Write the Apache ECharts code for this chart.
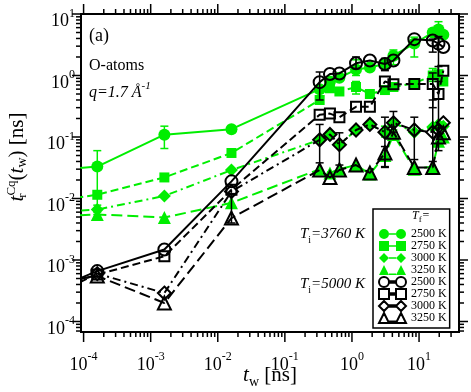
<!DOCTYPE html>
<html><head><meta charset="utf-8">
<script src="https://cdn.jsdelivr.net/npm/echarts@6/dist/echarts.min.js"></script>
<style>html,body{margin:0;padding:0;background:#fff}#c{width:471px;height:392px}</style>
</head><body><div id="c"></div>
<script>
// ---------------- data ----------------
const twLead = 5e-5;   // earlier waiting time (outside the plotted x range)
const tw = [1.6e-4, 1.6e-3, 1.6e-2, 0.33, 0.47, 0.65, 1.15, 1.85, 3.1, 4.15, 8.5, 16, 19.5, 23];

// Ti = 3760 K (green)   first value belongs to twLead
const g2500 = [0.030, 0.033, 0.109, 0.134, 0.60, 0.80, 0.92, 1.25, 1.35, 1.55, 2.1, 3.3, 5.0, 5.6, 4.6];
const g2750 = [0.0096, 0.0115, 0.022, 0.055, 0.40, 0.62, 0.55, 0.65, 0.50, 0.58, 0.65, 0.75, 1.0, 1.05, 0.80];
const g3000 = [0.0062, 0.0066, 0.011, 0.029, 0.09, 0.11, 0.075, 0.13, 0.16, 0.12, 0.17, 0.12, 0.145, 0.16, 0.15];
const g3250 = [0.0052, 0.0055, 0.0049, 0.0085, 0.030, 0.026, 0.030, 0.035, 0.025, 0.050, 0.11, 0.030, 0.033, 0.085, 0.10];
// Ti = 5000 K (black)
const b2500 = [3.9e-4, 6.6e-4, 1.48e-3, 0.019, 0.78, 1.06, 1.08, 1.58, 1.75, 1.54, 1.75, 3.9, 3.7, 3.3, 2.9];
const b2750 = [3.9e-4, 5.8e-4, 1.15e-3, 0.0139, 0.23, 0.24, 0.21, 0.31, 0.31, 0.80, 0.72, 0.73, 0.73, 0.50, 1.2];
const b3000 = [3.2e-4, 6.0e-4, 2.9e-4, 0.013, 0.09, 0.11, 0.075, 0.13, 0.16, 0.12, 0.17, 0.13, 0.12, 0.13, 0.17];
const b3250 = [4.5e-4, 5.5e-4, 2.0e-4, 4.8e-3, 0.029, 0.022, 0.029, 0.035, 0.026, 0.055, 0.12, 0.032, 0.032, 0.10, 0.117];

// error bars: [index into tw, low, high]
const g2500Err = [[0, 0.006, 0.06], [1, 0.065, 0.15], [6, 1.0, 1.8], [9, 1.5, 2.6], [10, 2.0, 4.2], [12, 4.0, 7.5]];
const g2750Err = [[6, 0.5, 0.8], [11, 0.8, 1.3]];
const g3000Err = [[0, 0.0055, 0.0078], [8, 0.1, 0.15]];
const g3250Err = [[9, 0.09, 0.13]];
const b2500Err = [[3, 0.40, 1.14], [6, 1.3, 2.0], [8, 1.2, 1.9], [11, 2.4, 3.9], [12, 1.4, 4.3]];
const b2750Err = [[11, 0.3, 1.1], [12, 0.1, 0.8]];
const b3000Err = [[3, 0.038, 0.16], [5, 0.035, 0.117], [8, 0.033, 0.21], [9, 0.12, 0.26], [10, 0.043, 0.21], [11, 0.04, 0.4]];
const b3250Err = [[2, 0.004, 0.012], [8, 0.032, 0.07], [12, 0.06, 0.14]];

const tempsK = ['2500', '2750', '3000', '3250'];

// axis ranges
const XMIN = 9.15e-5, XMAX = 39.4;
const YMIN = 6.75e-5, YMAX = 10;

// --------------- styling ---------------
const FONT = 'Liberation Serif';
const GREEN = '#00ee00';
const GREEN_TXT = '#22a022';
const dashes = { s: 'solid', d: [8, 4], dd: [8, 4, 2, 4], ld: [11, 5] };
const syms = ['circle', 'rect', 'diamond', 'triangle'];
const symSize = [12, 10, 13, 13];
const lineTypes = [dashes.s, dashes.d, dashes.dd, dashes.ld];
const iconPaths = [
  'path://M0,5A5,5,0,1,1,10,5A5,5,0,1,1,0,5ZM17,5A5,5,0,1,1,27,5A5,5,0,1,1,17,5ZM10,4.2L17,4.2L17,5.8L10,5.8Z',
  'path://M0,0L10,0L10,10L0,10ZM17,0L27,0L27,10L17,10ZM10,4.2L17,4.2L17,5.8L10,5.8Z',
  'path://M5,0L10,5L5,10L0,5ZM22,0L27,5L22,10L17,5ZM10,4.2L17,4.2L17,5.8L10,5.8Z',
  'path://M5,0L10,10L0,10ZM22,0L27,10L17,10ZM10,8.4L17,8.4L17,10L10,10Z'
];

function pts(arr) {
  const xs = [twLead].concat(tw);
  return arr.map((v, i) => i === 0 ? { value: [xs[i], v], symbol: 'none' } : [xs[i], v]);
}

const green = [g2500, g2750, g3000, g3250];
const black = [b2500, b2750, b3000, b3250];
const greenErr = [g2500Err, g2750Err, g3000Err, g3250Err];
const blackErr = [b2500Err, b2750Err, b3000Err, b3250Err];

const series = [];
function errRender(color) {
  return function (params, api) {
    const x = api.value(0), lo = api.value(1), hi = api.value(2);
    const a = api.coord([x, lo]), b = api.coord([x, hi]);
    const w = 4, st = { stroke: color, lineWidth: 1.5 };
    return { type: 'group', children: [
      { type: 'line', shape: { x1: a[0], y1: a[1], x2: b[0], y2: b[1] }, style: st },
      { type: 'line', shape: { x1: a[0] - w, y1: a[1], x2: a[0] + w, y2: a[1] }, style: st },
      { type: 'line', shape: { x1: b[0] - w, y1: b[1], x2: b[0] + w, y2: b[1] }, style: st }
    ] };
  };
}

[['g', green, greenErr, GREEN], ['b', black, blackErr, '#000']].forEach(([pfx, sets, errs, col], gi) => {
  sets.forEach((arr, k) => {
    const hollow = pfx === 'b';
    series.push({
      name: pfx + tempsK[k], type: 'line', data: pts(arr),
      symbol: syms[k], symbolSize: symSize[k], showAllSymbol: true,
      clip: true, z: 2 + gi, animation: false, silent: true,
      lineStyle: { color: col, width: 2, type: lineTypes[k] },
      itemStyle: hollow ? { color: 'rgba(0,0,0,0)', borderColor: '#000', borderWidth: 2 }
                        : { color: col, borderWidth: 0 }
    });
    series.push({
      type: 'custom', renderItem: errRender(col), z: 2 + gi, silent: true, animation: false,
      encode: { x: 0, y: [1, 2] },
      data: errs[k].map(e => [tw[e[0]], e[1], e[2]])
    });
  });
});

// minor/major tick marks (log decades) on all four sides
function logTicks(lo, hi) {
  const out = [];
  for (let e = -6; e <= 3; e++) {
    for (let m = 1; m <= 9; m++) {
      const v = m * Math.pow(10, e);
      if (v >= lo * 1.0001 && v <= hi * 1.0001) out.push([v, m === 1 ? 1 : 0]);
    }
  }
  return out;
}
function tickLine(x1, y1, x2, y2) {
  return { type: 'line', shape: { x1, y1, x2, y2 }, style: { stroke: '#000', lineWidth: 1.5 } };
}
series.push({
  type: 'custom', silent: true, animation: false, z: 10, clip: false,
  encode: { x: 0, y: 1 },
  data: logTicks(XMIN, XMAX).map(t => [t[0], YMIN, t[1]]),
  renderItem: function (params, api) {
    const cs = params.coordSys;
    const px = api.coord([api.value(0), YMIN])[0];
    const len = api.value(2) === 1 ? 10 : 5;
    return { type: 'group', children: [
      tickLine(px, cs.y + cs.height, px, cs.y + cs.height + len),
      tickLine(px, cs.y, px, cs.y - len)
    ] };
  }
});
series.push({
  type: 'custom', silent: true, animation: false, z: 10, clip: false,
  encode: { x: 0, y: 1 },
  data: logTicks(YMIN, YMAX).map(t => [XMIN, t[0], t[1]]),
  renderItem: function (params, api) {
    const cs = params.coordSys;
    const py = api.coord([XMIN, api.value(1)])[1];
    const len = api.value(2) === 1 ? 9 : 5;
    return { type: 'group', children: [
      tickLine(cs.x, py, cs.x - len, py),
      tickLine(cs.x + cs.width, py, cs.x + cs.width + len, py)
    ] };
  }
});

function decadeLabel(v) {
  const e = Math.log10(v), r = Math.round(e);
  if (Math.abs(e - r) > 1e-6) return '';
  return '{b|10}{s|' + r + '}';
}
const labelRich = {
  b: { fontFamily: FONT, fontSize: 18, color: '#000', lineHeight: 23, verticalAlign: 'bottom' },
  s: { fontFamily: FONT, fontSize: 12, color: '#000', lineHeight: 11, verticalAlign: 'top' }
};

const legendData = [];
['g', 'b'].forEach(pfx => tempsK.forEach((t, k) => {
  legendData.push({
    name: pfx + t, icon: iconPaths[k],
    itemStyle: pfx === 'g' ? { color: GREEN, borderWidth: 0 }
                           : { color: 'rgba(0,0,0,0)', borderColor: '#000', borderWidth: 2 }
  });
}));

const option = {
  backgroundColor: '#fff',
  animation: false,
  grid: { left: 81, right: 12, top: 14, bottom: 60, show: true, borderColor: '#000', borderWidth: 2, backgroundColor: 'transparent' },
  xAxis: {
    type: 'log', min: XMIN, max: XMAX,
    axisLine: { show: false }, axisTick: { show: false }, splitLine: { show: false },
    axisLabel: { margin: 19, formatter: decadeLabel, rich: labelRich }
  },
  yAxis: {
    type: 'log', min: YMIN, max: YMAX,
    axisLine: { show: false }, axisTick: { show: false }, splitLine: { show: false },
    axisLabel: { margin: 6, padding: [10, 0, 0, 0], formatter: decadeLabel, rich: labelRich }
  },
  legend: {
    left: 373, top: 209, orient: 'vertical', selectedMode: false,
    padding: [19, 3, 4, 5], itemWidth: 27, itemHeight: 10, itemGap: 0,
    borderColor: '#000', borderWidth: 1.5, backgroundColor: '#fff',
    textStyle: { fontFamily: FONT, fontSize: 12, lineHeight: 10, color: '#000' },
    formatter: n => n.slice(1) + ' K',
    data: legendData
  },
  graphic: [
    { type: 'text', x: 89, y: 36, z: 20, style: { text: '(a)', font: '18px "Liberation Serif"', fill: '#000', verticalAlign: 'middle' } },
    { type: 'text', x: 89, y: 66, z: 20, style: { text: 'O-atoms', font: '16px "Liberation Serif"', fill: '#000', verticalAlign: 'middle' } },
    { type: 'text', x: 89, y: 91, z: 20, style: {
        text: '{i|q=1.7 Å}{s|-1}', verticalAlign: 'middle',
        rich: { i: { fontFamily: FONT, fontStyle: 'italic', fontSize: 16, color: '#000', lineHeight: 20, verticalAlign: 'bottom' },
                s: { fontFamily: FONT, fontStyle: 'italic', fontSize: 11, color: '#000', lineHeight: 10, verticalAlign: 'top' } } } },
    { type: 'text', x: 300, y: 236, z: 20, style: {
        text: '{i|T}{u|i}{i|=3760 K}', verticalAlign: 'middle',
        rich: { i: { fontFamily: FONT, fontStyle: 'italic', fontSize: 15, color: GREEN_TXT, lineHeight: 19, verticalAlign: 'top' },
                u: { fontFamily: FONT, fontSize: 10, color: GREEN_TXT, lineHeight: 10, verticalAlign: 'bottom' } } } },
    { type: 'text', x: 300, y: 286, z: 20, style: {
        text: '{i|T}{u|i}{i|=5000 K}', verticalAlign: 'middle',
        rich: { i: { fontFamily: FONT, fontStyle: 'italic', fontSize: 15, color: '#000', lineHeight: 19, verticalAlign: 'top' },
                u: { fontFamily: FONT, fontSize: 10, color: '#000', lineHeight: 10, verticalAlign: 'bottom' } } } },
    { type: 'text', x: 412, y: 217, z: 20, style: {
        text: '{i|T}{u|f}{i|=}', verticalAlign: 'middle',
        rich: { i: { fontFamily: FONT, fontStyle: 'italic', fontSize: 12, color: '#000', lineHeight: 14, verticalAlign: 'top' },
                u: { fontFamily: FONT, fontSize: 9, color: '#000', lineHeight: 8, verticalAlign: 'bottom' } } } },
    { type: 'text', x: 270, y: 377, z: 20, style: {
        text: '{t|t}{w|w}{n| [ns]}', align: 'center', verticalAlign: 'middle',
        rich: { t: { fontFamily: FONT, fontStyle: 'italic', fontSize: 21, color: '#000', lineHeight: 24, verticalAlign: 'top' },
                w: { fontFamily: FONT, fontSize: 14, color: '#000', lineHeight: 12, verticalAlign: 'bottom' },
                n: { fontFamily: FONT, fontSize: 21, color: '#000', lineHeight: 24, verticalAlign: 'top' } } } },
    { type: 'text', x: 17, y: 157, z: 20, rotation: Math.PI / 2, style: {
        text: '{t|t}{r|r}{c|Cq}{n|(}{t|t}{w|w}{n|)}{n| [ns]}', align: 'center', verticalAlign: 'middle',
        rich: { t: { fontFamily: FONT, fontStyle: 'italic', fontSize: 21, color: '#000', lineHeight: 24, verticalAlign: 'middle' },
                r: { fontFamily: FONT, fontSize: 13, color: '#000', lineHeight: 12, verticalAlign: 'bottom', width: 0 },
                c: { fontFamily: FONT, fontSize: 13, color: '#000', lineHeight: 12, verticalAlign: 'top' },
                w: { fontFamily: FONT, fontSize: 14, color: '#000', lineHeight: 12, verticalAlign: 'bottom' },
                n: { fontFamily: FONT, fontSize: 21, color: '#000', lineHeight: 24, verticalAlign: 'middle' } } } }
  ],
  series: series
};
const chart = echarts.init(document.getElementById('c'));
chart.setOption(option);
</script>
</body></html>
